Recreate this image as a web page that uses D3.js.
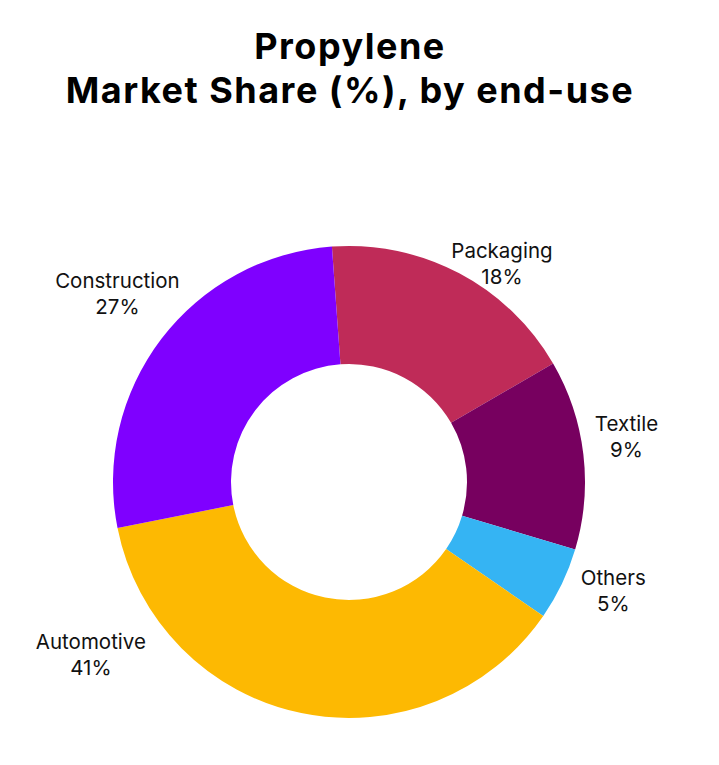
<!DOCTYPE html>
<html>
<head>
<meta charset="utf-8">
<script src="https://cdn.jsdelivr.net/npm/d3@7"></script>
<style>
  html, body { margin: 0; padding: 0; background: #fff; }
  svg { display: block; }
</style>
</head>
<body>
<svg id="chart"></svg>
<script>
// slice sizes as drawn, and the percent text printed on each label
const categories = ["Packaging", "Textile", "Others", "Automotive", "Construction"];
const shares = [17.8, 13.0, 5.0, 37.3, 27.0];
const labelPct = ["18%", "9%", "5%", "41%", "27%"];
const colors = ["#BF2B58", "#77005F", "#35B4F3", "#FDB902", "#7F00FF"];

const width = 719, height = 765;
const cx = 349, cy = 482;
const outerRadius = 236, innerRadius = 118;
const startDeg = -4.15;

// where each label sits: angle (deg, clockwise from 12 o'clock) and distance from centre
const labelPolar = {
    Packaging: [35.1, 266],
    Textile: [80.9, 281],
    Others: [112.5, 286],
    Automotive: [236.1, 311],
    Construction: [309.0, 298]
};

const svg = d3.select("#chart").attr("width", width).attr("height", height);

// title
const title = svg.append("text")
    .attr("text-anchor", "middle")
    .style("font-family", "Inter, 'Noto Sans', sans-serif")
    .style("font-weight", "700")
    .style("font-size", "36px")
    .style("letter-spacing", "1.5px")
    .style("fill", "#000");
title.append("tspan").attr("x", 350).attr("y", 59).text("Propylene");
title.append("tspan").attr("x", 350).attr("y", 103).text("Market Share (%), by end-use");

const data = categories.map((c, i) => ({ label: c, value: shares[i], pct: labelPct[i] }));

const start = startDeg * Math.PI / 180;
const pie = d3.pie()
    .value(d => d.value)
    .sort(null)
    .startAngle(start)
    .endAngle(start + 2 * Math.PI);

const arc = d3.arc()
    .innerRadius(innerRadius)
    .outerRadius(outerRadius);

const chart = svg.append("g").attr("transform", `translate(${cx},${cy})`);

chart.selectAll("path")
    .data(pie(data))
    .enter()
    .append("path")
    .attr("d", arc)
    .attr("fill", (d, i) => colors[i % colors.length]);

// labels outside the ring
const labels = chart.selectAll("g.label")
    .data(pie(data))
    .enter()
    .append("g")
    .attr("class", "label")
    .attr("transform", d => {
        const [deg, r] = labelPolar[d.data.label];
        const a = deg * Math.PI / 180;
        return `translate(${r * Math.sin(a)},${-r * Math.cos(a)})`;
    });

const labelText = labels.append("text")
    .attr("text-anchor", "middle")
    .style("font-family", "Inter, 'Noto Sans', sans-serif")
    .style("font-size", "20.5px")
    .style("fill", "#111");

labelText.append("tspan").attr("x", 0).attr("y", -6.5).text(d => d.data.label);
labelText.append("tspan").attr("x", 0).attr("y", 19.5).text(d => d.data.pct);
</script>
</body>
</html>
